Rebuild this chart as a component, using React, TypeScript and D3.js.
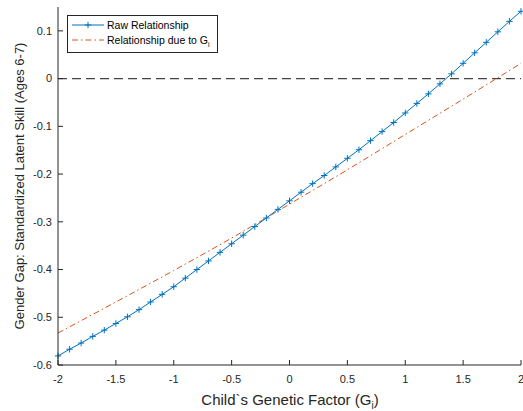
import React from "react";
import * as d3 from "d3";

const xValues: number[] = d3.range(41).map((i) => -2 + i * 0.1);
const rawValues: number[] = [
  -0.581, -0.567, -0.554, -0.540, -0.527, -0.513, -0.499, -0.484, -0.468, -0.452,
  -0.436, -0.418, -0.400, -0.382, -0.364, -0.346, -0.328, -0.310, -0.292, -0.274,
  -0.256, -0.238, -0.220, -0.203, -0.185, -0.167, -0.149, -0.130, -0.111, -0.092,
  -0.072, -0.052, -0.032, -0.011, 0.010, 0.032, 0.054, 0.076, 0.098, 0.120, 0.141,
];
const giX: number[] = [-2, -1.5, -1, -0.5, 0, 0.5, 1, 1.5, 2];
const giValues: number[] = [-0.533, -0.468, -0.402, -0.334, -0.263, -0.191, -0.117, -0.043, 0.032];
const xTicks: number[] = [-2, -1.5, -1, -0.5, 0, 0.5, 1, 1.5, 2];
const yTicks: number[] = [-0.6, -0.5, -0.4, -0.3, -0.2, -0.1, 0, 0.1];

const W = 523;
const H = 411;
const left = 58;
const right = 521;
const top = 7;
const bottom = 365;

export default function App() {
  const x = d3.scaleLinear().domain([-2, 2]).range([left, right]);
  const y = d3.scaleLinear().domain([-0.6, 0.15]).range([bottom, top]);
  const rawPts = xValues.map((v, i) => [v, rawValues[i]] as [number, number]);
  const giPts = giX.map((v, i) => [v, giValues[i]] as [number, number]);
  const line = d3
    .line<[number, number]>()
    .x((d) => x(d[0]))
    .y((d) => y(d[1]));
  const giLine = d3
    .line<[number, number]>()
    .x((d) => x(d[0]))
    .y((d) => y(d[1]))
    .curve(d3.curveMonotoneX);
  const blue = "#0072BD";
  const orange = "#D95319";
  const axisColor = "#262626";
  const font = "'Liberation Sans', Arial, sans-serif";
  const m = 3.2;

  return (
    <svg
      width={W}
      height={H}
      style={{ position: "absolute", left: 0, top: 0, background: "#fff" }}
      fontFamily={font}
    >
      {/* zero dashed line */}
      <line
        x1={x(-2)}
        x2={x(2)}
        y1={y(0)}
        y2={y(0)}
        stroke="#444"
        strokeWidth={1.3}
        strokeDasharray="9,5"
      />
      {/* Gi line */}
      <path
        d={giLine(giPts) || ""}
        fill="none"
        stroke={orange}
        strokeWidth={1}
        strokeDasharray="6,3,1.5,3"
      />
      {/* raw line */}
      <path d={line(rawPts) || ""} fill="none" stroke={blue} strokeWidth={1} />
      {rawPts.map((p, i) => (
        <g key={i} stroke={blue} strokeWidth={1}>
          <line x1={x(p[0]) - m} x2={x(p[0]) + m} y1={y(p[1])} y2={y(p[1])} />
          <line x1={x(p[0])} x2={x(p[0])} y1={y(p[1]) - m} y2={y(p[1]) + m} />
        </g>
      ))}
      {/* axes */}
      <line x1={left} x2={left} y1={top} y2={bottom} stroke={axisColor} strokeWidth={1} />
      <line x1={left} x2={right} y1={bottom} y2={bottom} stroke={axisColor} strokeWidth={1} />
      {xTicks.map((t) => (
        <g key={"x" + t}>
          <line x1={x(t)} x2={x(t)} y1={bottom} y2={bottom - 5} stroke={axisColor} />
          <text x={x(t)} y={383} textAnchor="middle" fontSize={11} fill={axisColor}>
            {t}
          </text>
        </g>
      ))}
      {yTicks.map((t) => (
        <g key={"y" + t}>
          <line x1={left} x2={left + 5} y1={y(t)} y2={y(t)} stroke={axisColor} />
          <text
            x={52}
            y={y(t)}
            dy="0.35em"
            textAnchor="end"
            fontSize={11}
            fill={axisColor}
          >
            {t}
          </text>
        </g>
      ))}
      {/* axis labels */}
      <text x={290} y={405} textAnchor="middle" fontSize={15} fill={axisColor}>
        Child`s Genetic Factor (G
        <tspan fontSize={10} dy={4}>i</tspan>
        <tspan dy={-4}>)</tspan>
      </text>
      <text
        transform={`translate(24,${(top + bottom) / 2}) rotate(-90)`}
        textAnchor="middle"
        fontSize={13}
        fill={axisColor}
      >
        Gender Gap: Standardized Latent Skill (Ages 6-7)
      </text>
      {/* legend */}
      <rect x={67.5} y={15.5} width={150} height={37} fill="#fff" stroke={axisColor} strokeWidth={1} />
      <line x1={72} x2={104} y1={25} y2={25} stroke={blue} />
      <line x1={88} x2={88} y1={25 - m} y2={25 + m} stroke={blue} />
      <line x1={88 - m} x2={88 + m} y1={25} y2={25} stroke={blue} />
      <text x={107} y={25} dy="0.35em" fontSize={10.5} fill="#000">
        Raw Relationship
      </text>
      <line
        x1={72}
        x2={104}
        y1={40}
        y2={40}
        stroke={orange}
        strokeDasharray="6,3,1.5,3"
      />
      <text x={107} y={40} dy="0.35em" fontSize={10.5} fill="#000">
        Relationship due to G
        <tspan fontSize={7} dy={3}>i</tspan>
      </text>
    </svg>
  );
}
